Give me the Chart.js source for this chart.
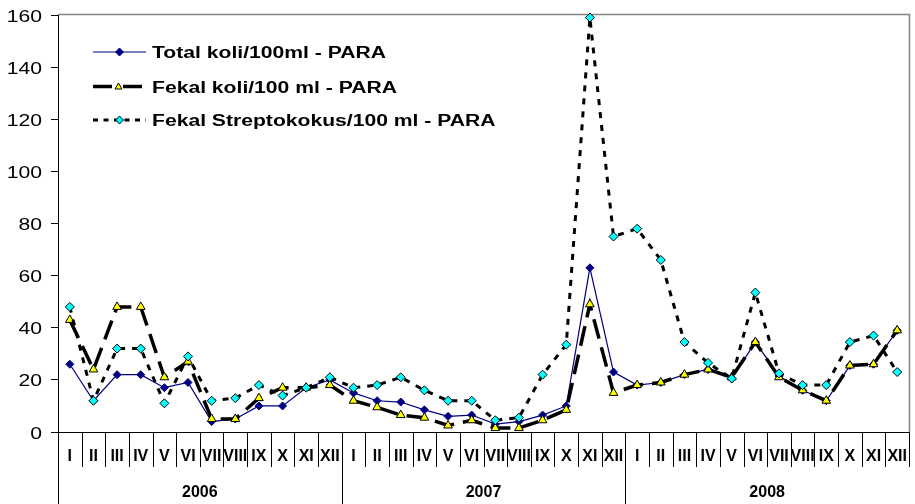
<!DOCTYPE html>
<html>
<head>
<meta charset="utf-8">
<script src="https://cdn.jsdelivr.net/npm/chart.js@4/dist/chart.umd.min.js"></script>
<style>
  html, body { margin: 0; padding: 0; background: #fff; overflow: hidden; }
  #wrap { width: 915px; height: 504px; }
</style>
</head>
<body>
<div id="wrap"><canvas id="c" width="915" height="504"></canvas></div>
<script>
// Monthly samples, 2006-2008
const years = ['2006', '2007', '2008'];
const months = ['I', 'II', 'III', 'IV', 'V', 'VI', 'VII', 'VIII', 'IX', 'X', 'XI', 'XII'];
const categories = years.flatMap(y => months.map(m => m + ' ' + y));
const yTicks = [0, 20, 40, 60, 80, 100, 120, 140, 160];

const seriesNames = [
  'Total koli/100ml - PARA',
  'Fekal koli/100 ml - PARA',
  'Fekal Streptokokus/100 ml - PARA'
];

const totalKoli = [
  26, 12, 22, 22, 17, 19, 4, 5, 10, 10, 17, 20,
  15, 12, 11.5, 8.5, 6, 6.5, 3, 4, 6.5, 10, 63, 23,
  18, 19, 22, 24, 20.5, 34.5, 21.5, 16, 12, 25.5, 26, 39
];
const fekalKoli = [
  43, 24, 48, 48, 21, 27, 5, 5, 13, 17, 17, 18,
  12, 9.5, 6.5, 5.5, 2.5, 4.5, 1.5, 1.5, 4.5, 8.5, 49, 15,
  18, 19, 22, 24, 21, 34.5, 21, 16, 12, 25.5, 26, 39
];
const fekalStrep = [
  48, 12, 32, 32, 11, 29, 12, 13, 18, 14, 17, 21,
  17, 18, 21, 16, 12, 12, 4.5, 5.5, 22, 33.5, 159, 75,
  78, 66, 34.5, 26.5, 20.5, 53.5, 22.5, 18, 18, 34.5, 37, 23
];

const FONT = '"Liberation Sans", Arial, sans-serif';
const STRETCH = 1.32;

function stretchedText(ctx, text, x, y, align, font) {
  ctx.save();
  ctx.font = font;
  ctx.fillStyle = '#000';
  ctx.textAlign = align;
  ctx.textBaseline = 'alphabetic';
  ctx.translate(x, y);
  ctx.scale(STRETCH, 1);
  ctx.fillText(text, 0, 0);
  ctx.restore();
}

function marker(ctx, kind, x, y, r, fill, stroke) {
  ctx.save();
  ctx.setLineDash([]);
  ctx.beginPath();
  if (kind === 'diamond') {
    ctx.moveTo(x - r, y); ctx.lineTo(x, y - r); ctx.lineTo(x + r, y); ctx.lineTo(x, y + r);
  } else {
    const h = r * 1.5, s = r * Math.sqrt(3);
    ctx.moveTo(x, y - h * 2 / 3); ctx.lineTo(x + s / 2, y + h / 3); ctx.lineTo(x - s / 2, y + h / 3);
  }
  ctx.closePath();
  ctx.fillStyle = fill; ctx.fill();
  ctx.lineWidth = 1; ctx.strokeStyle = stroke; ctx.stroke();
  ctx.restore();
}

// Frame, month/year axis and legend
const framePlugin = {
  id: 'frame',
  beforeDatasetsDraw(chart) {
    const ctx = chart.ctx;
    const { left, right, top, bottom } = chart.chartArea;
    ctx.save();
    // grey top and right border
    ctx.strokeStyle = '#858585';
    ctx.lineWidth = 1.5;
    ctx.beginPath();
    ctx.moveTo(left, top - 0.5); ctx.lineTo(right + 0.5, top - 0.5); ctx.lineTo(right + 0.5, bottom);
    ctx.stroke();
    // category axis
    ctx.strokeStyle = '#000';
    ctx.lineWidth = 1;
    ctx.beginPath();
    ctx.moveTo(left, bottom + 0.5); ctx.lineTo(right + 1, bottom + 0.5);
    const n = categories.length;
    const w = (right - left) / n;
    for (let i = 0; i <= n; i++) {
      const x = Math.round(left + i * w) + 0.5;
      const long = (i % months.length === 0) && i < n;
      ctx.moveTo(x, bottom);
      ctx.lineTo(x, long ? 504 : 467);
    }
    ctx.stroke();
    ctx.fillStyle = '#000';
    ctx.textAlign = 'center';
    ctx.textBaseline = 'middle';
    ctx.font = 'bold 16px ' + FONT;
    const xs = chart.scales.x;
    categories.forEach((c, i) => {
      ctx.fillText(months[i % months.length], xs.getPixelForValue(i), 457);
    });
    years.forEach((y, k) => {
      const x0 = left + k * months.length * w;
      ctx.fillText(y, x0 + months.length * w / 2, 493);
    });
    ctx.restore();
  },
  afterDraw(chart) {
    const ctx = chart.ctx;
    const ys = chart.scales.y;
    yTicks.forEach(v => {
      stretchedText(ctx, String(v), 42, ys.getPixelForValue(v) + 6.5, 'right', '16px ' + FONT);
    });

    // legend
    const rows = [52, 86.5, 120];
    ctx.save();
    // Total koli
    ctx.strokeStyle = '#000080'; ctx.lineWidth = 1.2; ctx.setLineDash([]);
    ctx.beginPath(); ctx.moveTo(93, rows[0]); ctx.lineTo(146, rows[0]); ctx.stroke();
    marker(ctx, 'diamond', 119.5, rows[0], 4, '#000080', '#000080');
    // Fekal koli
    ctx.strokeStyle = '#000'; ctx.lineWidth = 3.5;
    ctx.beginPath(); ctx.moveTo(93, rows[1]); ctx.lineTo(112, rows[1]);
    ctx.moveTo(123, rows[1]); ctx.lineTo(142, rows[1]); ctx.stroke();
    marker(ctx, 'triangle', 118.5, rows[1] + 0.5, 4, '#ffff00', '#000');
    // Fekal Streptokokus
    ctx.lineWidth = 3; ctx.setLineDash([5, 5.5]);
    ctx.beginPath(); ctx.moveTo(93, rows[2]); ctx.lineTo(146, rows[2]); ctx.stroke();
    marker(ctx, 'diamond', 119.5, rows[2], 4, '#00ffff', '#000');
    ctx.restore();

    seriesNames.forEach((s, i) => {
      stretchedText(ctx, s, 152, rows[i] + 6, 'left', 'bold 16px ' + FONT);
    });
  }
};

new Chart(document.getElementById('c'), {
  type: 'line',
  data: {
    labels: categories,
    datasets: [
      {
        label: seriesNames[0],
        data: totalKoli,
        order: 3,
        borderColor: '#000080',
        borderWidth: 1.2,
        pointStyle: 'rectRot',
        pointRadius: 4,
        pointBackgroundColor: '#000080',
        pointBorderColor: '#000080',
        pointBorderWidth: 1,
        tension: 0,
        clip: false
      },
      {
        label: seriesNames[1],
        data: fekalKoli,
        order: 2,
        borderColor: '#000',
        borderWidth: 3.5,
        borderDash: [20, 9],
        pointStyle: 'triangle',
        pointRadius: 5,
        pointBackgroundColor: '#ffff00',
        pointBorderColor: '#000',
        pointBorderWidth: 1,
        tension: 0,
        clip: false
      },
      {
        label: seriesNames[2],
        data: fekalStrep,
        order: 1,
        borderColor: '#000',
        borderWidth: 3,
        borderDash: [6, 7],
        pointStyle: 'rectRot',
        pointRadius: 4.5,
        pointBackgroundColor: '#00ffff',
        pointBorderColor: '#000',
        pointBorderWidth: 1,
        tension: 0,
        clip: false
      }
    ]
  },
  options: {
    responsive: false,
    animation: false,
    devicePixelRatio: 1,
    layout: { padding: { top: 15, right: 3, bottom: 72, left: 0 } },
    plugins: { legend: { display: false }, tooltip: { enabled: false } },
    scales: {
      x: { type: 'category', display: false, offset: true },
      y: {
        min: 0,
        max: 160,
        ticks: { stepSize: 20, color: 'rgba(0,0,0,0)', font: { size: 16 } },
        grid: { drawOnChartArea: false, drawTicks: true, tickLength: 7, color: '#000' },
        border: { color: '#000', width: 1 },
        afterFit(scale) { scale.width = 58; }
      }
    }
  },
  plugins: [framePlugin]
});
</script>
</body>
</html>
